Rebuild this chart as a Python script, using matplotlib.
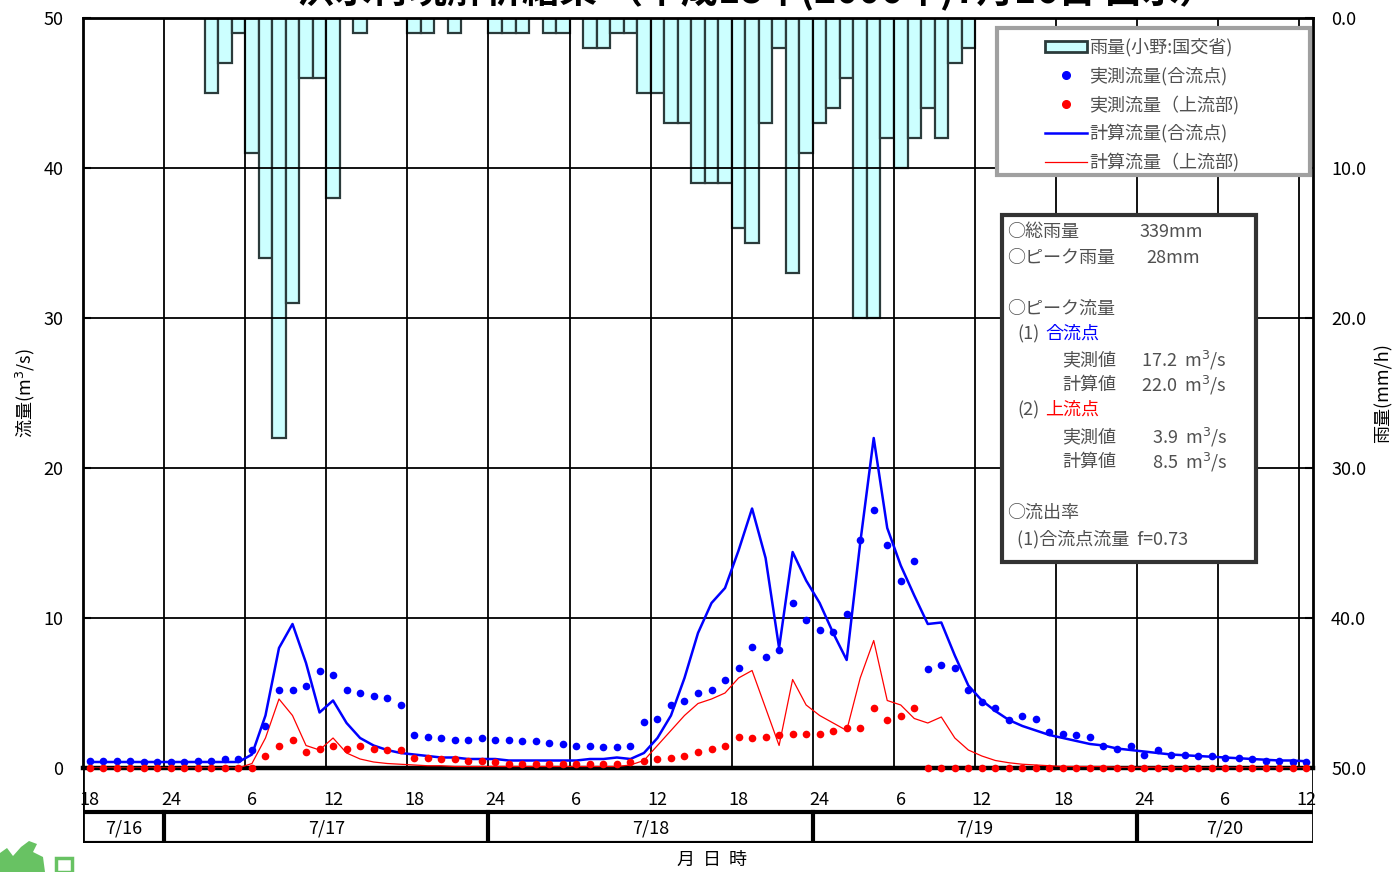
import matplotlib
matplotlib.use("Agg")
import matplotlib.pyplot as plt
from matplotlib.patches import Rectangle, Polygon
from matplotlib.lines import Line2D
import numpy as np

plt.rcParams['font.family'] = ['Noto Sans CJK JP', 'DejaVu Sans']

# 経過時間 (7/16 18時 = 0), 1時間ごと
hours = np.arange(0, 91)

# 時間雨量 (mm/h)
rain_hours = [9, 10, 11, 12, 13, 14, 15, 16, 17, 18, 20,
              24, 25, 27, 30, 31, 32, 34, 35, 37, 38, 39, 40,
              41, 42, 43, 44, 45, 46, 47, 48, 49, 50, 51, 52,
              53, 54, 55, 56, 57, 58, 59, 60, 61, 62, 63, 64, 65]
rain = [5, 3, 1, 9, 16, 28, 19, 4, 4, 12, 1,
        1, 1, 1, 1, 1, 1, 1, 1, 2, 2, 1, 1,
        5, 5, 7, 7, 11, 11, 11, 14, 15, 7, 2, 17,
        9, 7, 6, 4, 20, 20, 8, 10, 8, 6, 8, 3, 2]

# 実測流量 (合流点)
obs_conf = [0.5, 0.5, 0.5, 0.5, 0.4, 0.4, 0.4, 0.4, 0.5, 0.5, 0.6, 0.6,
            1.2, 2.8, 5.2, 5.2, 5.5, 6.5, 6.2, 5.2, 5.0, 4.8, 4.7, 4.2,
            2.2, 2.1, 2.0, 1.9, 1.9, 2.0, 1.9, 1.9, 1.8, 1.8, 1.7, 1.6,
            1.5, 1.5, 1.4, 1.4, 1.5, 3.1, 3.3, 4.2, 4.5, 5.0, 5.2, 5.9,
            6.7, 8.1, 7.4, 7.9, 11.0, 9.9, 9.2, 9.1, 10.3, 15.2, 17.2, 14.9,
            12.5, 13.8, 6.6, 6.9, 6.7, 5.2, 4.4, 4.0, 3.2, 3.5, 3.3, 2.4,
            2.3, 2.2, 2.1, 1.5, 1.3, 1.5, 0.9, 1.2, 0.9, 0.9, 0.8, 0.8,
            0.7, 0.7, 0.6, 0.5, 0.5, 0.4, 0.4]

# 実測流量 (上流部)
obs_up = [0.0] * 13 + [0.8, 1.5, 1.9, 1.1, 1.3, 1.5, 1.3, 1.5, 1.3, 1.2, 1.2,
                       0.7, 0.7, 0.6, 0.6, 0.5, 0.5, 0.4, 0.3, 0.3, 0.3, 0.3, 0.3,
                       0.3, 0.3, 0.3, 0.3, 0.4, 0.5, 0.6, 0.7, 0.8, 1.1, 1.3, 1.5,
                       2.1, 2.0, 2.1, 2.2, 2.3, 2.3, 2.3, 2.5, 2.7, 2.7, 4.0, 3.2,
                       3.5, 4.0] + [0.0] * 29

# 計算流量 (合流点)
calc_conf = [0.4] * 12 + [0.9, 3.5, 8.0, 9.6, 7.0, 3.7, 4.5, 3.0, 2.0, 1.5, 1.2, 1.0,
                          0.9, 0.8, 0.7, 0.7, 0.6, 0.6, 0.6, 0.5, 0.5, 0.5, 0.5, 0.5,
                          0.5, 0.6, 0.6, 0.7, 0.6, 1.0, 2.0, 3.5, 6.0, 9.0, 11.0, 12.0,
                          14.5, 17.3, 14.0, 8.0, 14.4, 12.5, 11.0, 9.0, 7.2, 15.0, 22.0, 16.0,
                          13.5, 11.5, 9.6, 9.7, 7.5, 5.5, 4.5, 3.8, 3.2, 2.8, 2.5, 2.2,
                          2.0, 1.8, 1.6, 1.5, 1.3, 1.2, 1.1, 1.0, 0.9, 0.85, 0.8, 0.75,
                          0.7, 0.65, 0.6, 0.55, 0.5, 0.5, 0.45]

# 計算流量 (上流部)
calc_up = [0.0] * 12 + [0.3, 2.0, 4.6, 3.5, 1.5, 1.2, 2.0, 1.0, 0.6, 0.4, 0.3, 0.25,
                        0.2, 0.15, 0.15, 0.1, 0.1, 0.1, 0.1, 0.1, 0.1, 0.1, 0.1, 0.1,
                        0.1, 0.1, 0.1, 0.1, 0.2, 0.5, 1.5, 2.5, 3.5, 4.3, 4.6, 5.0,
                        6.0, 6.5, 4.0, 1.5, 5.9, 4.2, 3.5, 3.0, 2.5, 6.0, 8.5, 4.5,
                        4.2, 3.3, 3.0, 3.4, 2.0, 1.2, 0.8, 0.5, 0.35, 0.25, 0.2, 0.15,
                        0.1, 0.1, 0.1, 0.1, 0.05, 0.05, 0.05, 0.05, 0.0, 0.0, 0.0, 0.0,
                        0.0, 0.0, 0.0, 0.0, 0.0, 0.0, 0.0]

hour_labels = ['18', '24', '6', '12', '18', '24', '6', '12', '18',
               '24', '6', '12', '18', '24', '6', '12']
day_edges = [-0.5, 5.5, 29.5, 53.5, 77.5, 90.5]
day_labels = ['7/16', '7/17', '7/18', '7/19', '7/20']

W, H = 1392, 872


def fx(x):
    return x / W


def fy(y):
    return 1 - y / H


fig = plt.figure(figsize=(W / 100, H / 100), dpi=100)
ax = fig.add_axes([fx(83), fy(768), fx(1313) - fx(83), fy(18) - fy(768)])
ax.set_xlim(-0.5, 90.5)
ax.set_ylim(0, 50)
# 区切り線は時刻の間 (6時間ごと)
ax.set_xticks(np.arange(5.5, 90, 6))
ax.set_xticklabels([])
ax.tick_params(axis='x', length=0)
ax.set_yticks(np.arange(0, 51, 10))
ax.tick_params(axis='y', direction='in', length=6, width=1.5, labelsize=13, pad=14)
ax.grid(True, color='black', linewidth=1.3)
for s in ['left', 'right', 'top']:
    ax.spines[s].set_linewidth(2)
ax.spines['bottom'].set_linewidth(3.2)
ax.set_ylabel('流量(m$^3$/s)', fontsize=13, labelpad=5)

# 雨量 (右軸, 下向き)
ax2 = ax.twinx()
ax2.set_ylim(50, 0)
ax2.set_yticks(np.arange(0, 51, 10))
ax2.set_yticklabels([f'{v:.1f}' for v in np.arange(0, 51, 10)])
ax2.tick_params(axis='y', direction='in', length=6, width=1.5, labelsize=13, pad=13)
ax2.set_ylabel('雨量(mm/h)', fontsize=13, labelpad=6)
ax2.bar(rain_hours, rain, width=1.0, facecolor='#CCFFFF',
        edgecolor='#2B3B3B', linewidth=1.6, zorder=2)

ax.set_zorder(ax2.get_zorder() + 1)
ax.patch.set_visible(False)

ax.plot(hours, calc_conf, color='#0000FF', linewidth=1.8, zorder=3)
ax.plot(hours, calc_up, color='#FF0000', linewidth=0.9, zorder=3)
ax.plot(hours, obs_conf, 'o', color='#0000FF', markersize=5.5, markeredgewidth=0, zorder=4,
        clip_on=False)
ax.plot(hours, obs_up, 'o', color='#FF0000', markersize=5.5, markeredgewidth=0, zorder=4,
        clip_on=False)

# 日時の帯
band = fig.add_axes([fx(83), fy(843), fx(1313) - fx(83), fy(768) - fy(843)])
band.set_xlim(-0.5, 90.5)
band.set_ylim(0, 75)
band.axis('off')
band.plot([-0.5, -0.5], [0, 75], color='black', lw=2)
band.plot([90.5, 90.5], [0, 75], color='black', lw=2)
band.plot([-0.5, 90.5], [0, 0], color='black', lw=3)
band.plot([-0.5, 90.5], [31, 31], color='black', lw=3)
for e in day_edges[1:-1]:
    band.plot([e, e], [0, 31], color='black', lw=3)
for i, lab in enumerate(hour_labels):
    band.text(i * 6, 43, lab, ha='center', va='center', fontsize=13)
for i, lab in enumerate(day_labels):
    band.text((day_edges[i] + day_edges[i + 1]) / 2, 15, lab, ha='center', va='center',
              fontsize=13)
fig.text(fx(712), fy(860), '月  日  時', ha='center', va='center', fontsize=13)

# タイトル (上端)
fig.text(fx(757), fy(11), '洪水再現解析結果 （平成18年(2006年)7月16日 出水）', ha='center',
         va='bottom', fontsize=27, fontweight='bold')

# 左下のロゴ (一部)
logo_pts = [(0, 872), (0, 853), (7, 848), (13, 856), (21, 847), (29, 841), (37, 844),
            (33, 852), (43, 857), (45, 872)]
fig.patches.append(Polygon([(fx(x), fy(y)) for x, y in logo_pts], closed=True,
                           transform=fig.transFigure, facecolor='#4DB848',
                           edgecolor='none', alpha=0.85))
fig.patches.append(Rectangle((fx(56), fy(872)), fx(16), fy(858) - fy(872),
                             transform=fig.transFigure, facecolor='none',
                             edgecolor='#4DB848', linewidth=2.5, alpha=0.85))

# 凡例
fig.patches.append(Rectangle((fx(997), fy(175)), fx(1310) - fx(997), fy(28) - fy(175),
                             transform=fig.transFigure, facecolor='white',
                             edgecolor='#A0A0A0', linewidth=3, zorder=5))
handles = [Rectangle((0, 0), 1, 1, facecolor='#CCFFFF', edgecolor='#2B3B3B', linewidth=2),
           Line2D([], [], marker='o', linestyle='none', color='#0000FF', markersize=5.5),
           Line2D([], [], marker='o', linestyle='none', color='#FF0000', markersize=5.5),
           Line2D([], [], color='#0000FF', linewidth=1.8),
           Line2D([], [], color='#FF0000', linewidth=0.9)]
labels = ['雨量(小野:国交省)', '実測流量(合流点)', '実測流量（上流部)',
          '計算流量(合流点)', '計算流量（上流部)']
leg = fig.legend(handles, labels, loc='upper left', bbox_to_anchor=(fx(1038), fy(31)),
                 frameon=False, fontsize=13, handlelength=2.3, handleheight=0.6,
                 handletextpad=0.15, labelspacing=0.55, borderaxespad=0)
leg.set_zorder(6)
for t in leg.get_texts():
    t.set_color('#505050')

# 解析結果の注記
fig.patches.append(Rectangle((fx(1002), fy(562)), fx(1256) - fx(1002), fy(215) - fy(562),
                             transform=fig.transFigure, facecolor='white',
                             edgecolor='#333333', linewidth=3, zorder=5))
note_color = '#505050'
notes = [
    (1007, 232, '○総雨量', note_color),
    (1140, 232, '339mm', note_color),
    (1007, 258, '○ピーク雨量', note_color),
    (1146, 258, '28mm', note_color),
    (1007, 309, '○ピーク流量', note_color),
    (1017, 334, '(1)', note_color),
    (1045, 334, '合流点', '#0000FF'),
    (1062, 360, '実測値', note_color),
    (1141, 360, '17.2  m$^3$/s', note_color),
    (1062, 385, '計算値', note_color),
    (1141, 385, '22.0  m$^3$/s', note_color),
    (1017, 410, '(2)', note_color),
    (1045, 410, '上流点', '#FF0000'),
    (1062, 437, '実測値', note_color),
    (1152, 437, '3.9  m$^3$/s', note_color),
    (1062, 462, '計算値', note_color),
    (1152, 462, '8.5  m$^3$/s', note_color),
    (1007, 513, '○流出率', note_color),
    (1017, 539, '(1)合流点流量  f=0.73', note_color),
]
for x, y, s, c in notes:
    fig.text(fx(x), fy(y), s, ha='left', va='center', fontsize=13, color=c, zorder=6)

fig.savefig('out.png', dpi=100)
